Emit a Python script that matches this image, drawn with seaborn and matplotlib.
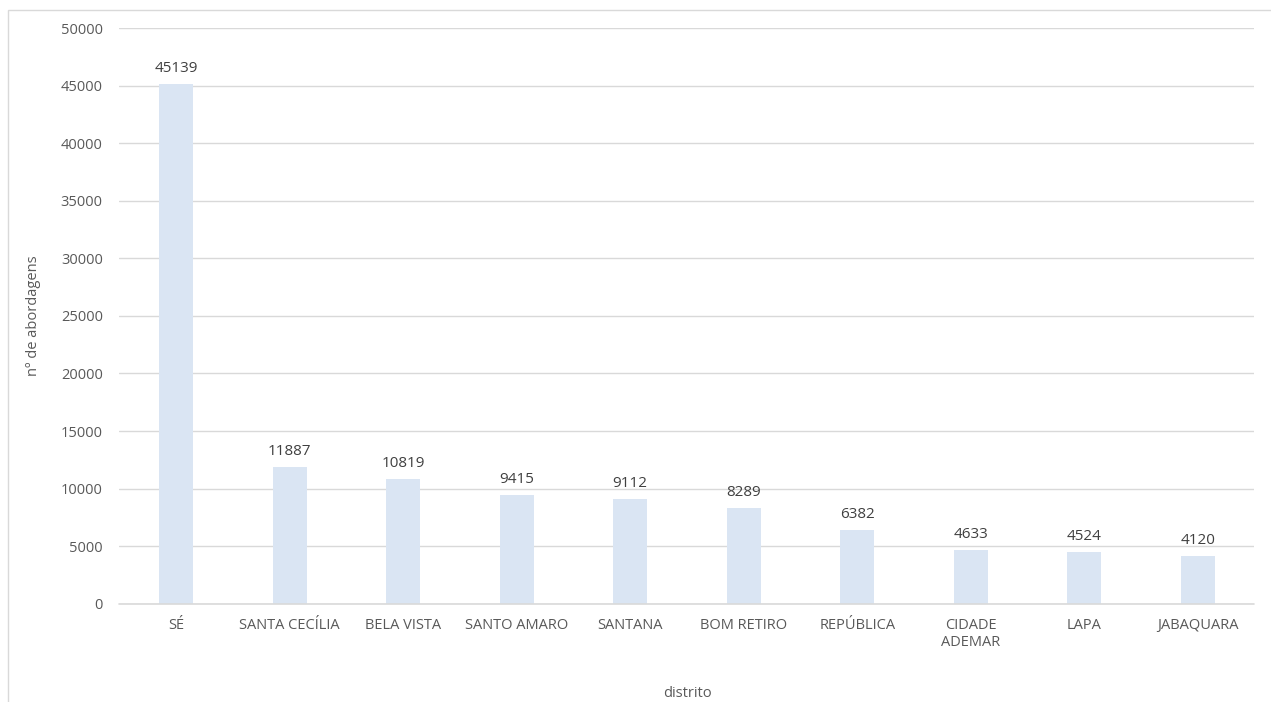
import matplotlib
matplotlib.use('Agg')
import matplotlib.pyplot as plt
import seaborn as sns
import pandas as pd

distritos = ['SÉ', 'SANTA CECÍLIA', 'BELA VISTA', 'SANTO AMARO', 'SANTANA',
             'BOM RETIRO', 'REPÚBLICA', 'CIDADE\nADEMAR', 'LAPA', 'JABAQUARA']
abordagens = [45139, 11887, 10819, 9415, 9112, 8289, 6382, 4633, 4524, 4120]
yticks = list(range(0, 50001, 5000))

df = pd.DataFrame({'distrito': distritos, 'abordagens': abordagens})

sns.set_style('white')
plt.rcParams['font.family'] = ['Open Sans', 'DejaVu Sans']
cinza = '#595959'

fig = plt.figure(figsize=(12.71, 7.02), dpi=100)
ax = fig.add_axes([0.094, 0.140, 0.893, 0.820])

sns.barplot(data=df, x='distrito', y='abordagens', color='#dae5f3',
            width=0.3, saturation=1, edgecolor='none', ax=ax, zorder=3)

for i, v in enumerate(abordagens):
    ax.text(i, v + 700, str(v), ha='center', va='bottom', fontsize=11, color='#404040')

ax.set_ylim(0, 50000)
ax.set_yticks(yticks)
ax.set_yticklabels([str(t) for t in yticks], fontsize=10.5, color=cinza)
ax.tick_params(axis='x', labelsize=10.5, labelcolor=cinza, length=0, pad=10)
ax.tick_params(axis='y', length=0, pad=12)
ax.yaxis.grid(True, color='#d9d9d9', linewidth=1, zorder=0)
ax.set_axisbelow(True)
ax.axhline(0, color='#d9d9d9', linewidth=1.2, clip_on=False, zorder=4)
for s in ax.spines.values():
    s.set_visible(False)

ax.set_xlabel('distrito', fontsize=10.5, color=cinza, labelpad=26)
ax.set_ylabel('nº de abordagens', fontsize=10.5, color=cinza, labelpad=14)

# moldura da área do gráfico
fig.patches.append(plt.Rectangle((0.006, -0.01), 1.2, 0.996, transform=fig.transFigure,
                                 fill=False, edgecolor='#d9d9d9', linewidth=1))

fig.savefig('out.png', dpi=100)
